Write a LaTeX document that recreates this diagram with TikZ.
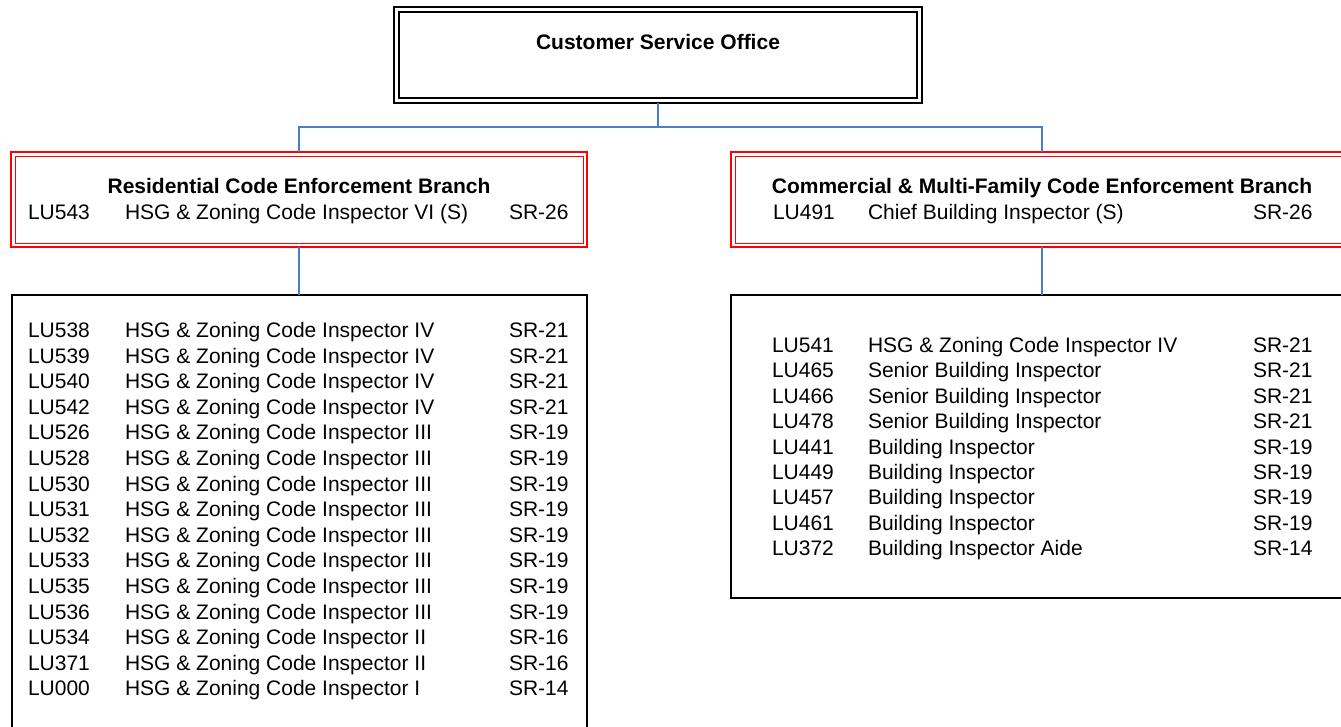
\documentclass[tikz,border=0pt]{standalone}
\usepackage{fontspec}
\setmainfont{Liberation Sans}
\definecolor{connblue}{RGB}{74,126,200}
\definecolor{boxred}{RGB}{255,0,0}
\begin{document}
\begin{tikzpicture}[x=1pt,y=-1pt,
  every node/.style={inner sep=0pt, outer sep=0pt},
  body/.style={font=\fontsize{21}{25}\selectfont},
  head/.style={font=\fontsize{21}{25}\selectfont\bfseries},
  txt/.style={body, anchor=base west},
  conn/.style={draw=connblue, line width=1.5pt},
  topbox/.style={draw, line width=1.3pt, anchor=north west},
  redbox/.style={draw=boxred, line width=2pt, anchor=north west},
  listbox/.style={draw, line width=1.5pt, anchor=north west}]
\useasboundingbox (0,0) rectangle (1341,726);
% boxes
\node[topbox, minimum width=528pt, minimum height=96pt] (top) at (394,7) {};
\draw[line width=1.9pt] ([xshift=5pt,yshift=-5pt]top.north west) rectangle ([xshift=-5pt,yshift=5pt]top.south east);
\node[redbox, minimum width=576pt, minimum height=95pt] (res) at (11,152) {};
\draw[boxred, line width=1pt] ([xshift=4pt,yshift=-4pt]res.north west) rectangle ([xshift=-4pt,yshift=4pt]res.south east);
\node[redbox, minimum width=622pt, minimum height=95pt] (com) at (731,152) {};
\draw[boxred, line width=1pt] ([xshift=4pt,yshift=-4pt]com.north west) rectangle ([xshift=-4pt,yshift=4pt]com.south east);
\node[listbox, minimum width=575pt, minimum height=450pt] (reslist) at (12,295) {};
\node[listbox, minimum width=622pt, minimum height=303pt] (comlist) at (731,295) {};
% connectors
\coordinate (bus) at (658,127);
\draw[conn] (top.south) -- (bus);
\draw[conn] (bus) -| (res.north);
\draw[conn] (bus) -| (com.north);
\draw[conn] (res.south) -- (res.south |- reslist.north);
\draw[conn] (com.south) -- (com.south |- comlist.north);
% titles
\node[head, anchor=base] (toptitle) at (658,49) {Customer Service Office};
\node[head, anchor=base] (restitle) at (299,193) {Residential Code Enforcement Branch};
\node[head, anchor=base] (comtitle) at (1042,193) {Commercial \& Multi-Family Code Enforcement Branch};
\node[txt] (resa) at (28,219) {LU543};
\node[txt] (resb) at (125,219) {HSG \& Zoning Code Inspector VI (S)};
\node[txt] (resc) at (509,219) {SR-26};
\node[txt] (coma) at (773,219) {LU491};
\node[txt] (comb) at (868,219) {Chief Building Inspector (S)};
\node[txt] (comc) at (1253,219) {SR-26};
% residential list
\foreach \c/\t/\s [count=\i] in {
  LU538/HSG \& Zoning Code Inspector IV/SR-21,
  LU539/HSG \& Zoning Code Inspector IV/SR-21,
  LU540/HSG \& Zoning Code Inspector IV/SR-21,
  LU542/HSG \& Zoning Code Inspector IV/SR-21,
  LU526/HSG \& Zoning Code Inspector III/SR-19,
  LU528/HSG \& Zoning Code Inspector III/SR-19,
  LU530/HSG \& Zoning Code Inspector III/SR-19,
  LU531/HSG \& Zoning Code Inspector III/SR-19,
  LU532/HSG \& Zoning Code Inspector III/SR-19,
  LU533/HSG \& Zoning Code Inspector III/SR-19,
  LU535/HSG \& Zoning Code Inspector III/SR-19,
  LU536/HSG \& Zoning Code Inspector III/SR-19,
  LU534/HSG \& Zoning Code Inspector II/SR-16,
  LU371/HSG \& Zoning Code Inspector II/SR-16,
  LU000/HSG \& Zoning Code Inspector I/SR-14}{
  \node[txt] (rl\i a) at (28,{337.5+(\i-1)*25.6}) {\c};
  \node[txt] (rl\i b) at (125,{337.5+(\i-1)*25.6}) {\t};
  \node[txt] (rl\i c) at (509,{337.5+(\i-1)*25.6}) {\s};
}
% commercial list
\foreach \c/\t/\s [count=\i] in {
  LU541/HSG \& Zoning Code Inspector IV/SR-21,
  LU465/Senior Building Inspector/SR-21,
  LU466/Senior Building Inspector/SR-21,
  LU478/Senior Building Inspector/SR-21,
  LU441/Building Inspector/SR-19,
  LU449/Building Inspector/SR-19,
  LU457/Building Inspector/SR-19,
  LU461/Building Inspector/SR-19,
  LU372/Building Inspector Aide/SR-14}{
  \node[txt] (cl\i a) at (772,{352.5+(\i-1)*25.4}) {\c};
  \node[txt] (cl\i b) at (868,{352.5+(\i-1)*25.4}) {\t};
  \node[txt] (cl\i c) at (1253,{352.5+(\i-1)*25.4}) {\s};
}
\end{tikzpicture}
\end{document}
